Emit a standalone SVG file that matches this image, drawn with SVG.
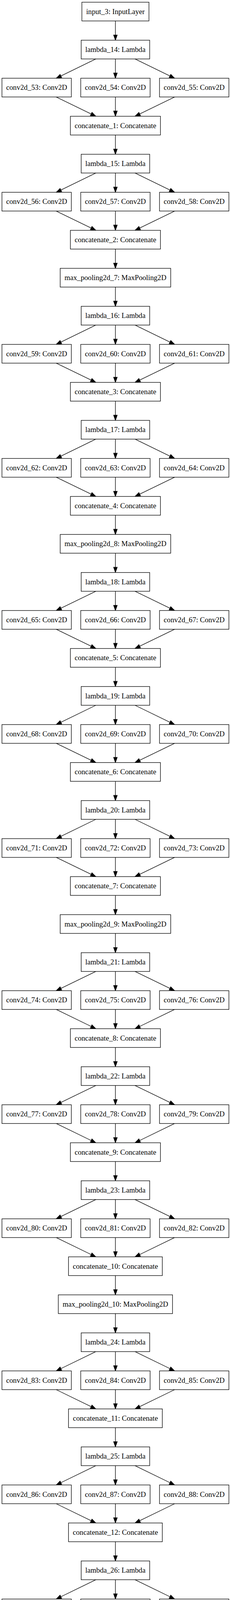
<svg xmlns="http://www.w3.org/2000/svg" width="591" height="4732" viewBox="0 0 591 4732">
<style>
.n rect{fill:#fff;stroke:#000;stroke-width:1.33}
.n text{font-family:"Liberation Serif","Times New Roman",serif;font-size:18.67px;fill:#000;text-anchor:middle}
.e path{fill:none;stroke:#000;stroke-width:1.33;marker-end:url(#ah)}
</style>
<defs>
<marker id="ah" markerUnits="userSpaceOnUse" viewBox="0 0 13.33 9.33" refX="13.33" refY="4.67" markerWidth="13.33" markerHeight="9.33" orient="auto" overflow="visible">
<path d="M0,0 L13.33,4.67 L0,9.33 z" fill="#000" stroke="#000" stroke-width="1.33"/>
</marker>
</defs>
<rect width="591" height="4732" fill="#fff"/>
<g id="connectors" class="e">
<path d="M295.3,53.6V102.9"/>
<path d="M245.2,150.9L143.8,200.3"/><path d="M295.3,150.9V200.3"/><path d="M345.4,150.9L446.8,200.3"/>
<path d="M143.8,248.3L245.2,297.6"/><path d="M295.3,248.3V297.6"/><path d="M446.8,248.3L345.4,297.6"/>
<path d="M295.3,345.6V394.9"/>
<path d="M245.2,442.9L143.8,492.3"/><path d="M295.3,442.9V492.3"/><path d="M345.4,442.9L446.8,492.3"/>
<path d="M143.8,540.3L245.2,589.6"/><path d="M295.3,540.3V589.6"/><path d="M446.8,540.3L345.4,589.6"/>
<path d="M295.3,637.6V686.9"/>
<path d="M295.3,734.9V784.2"/>
<path d="M245.2,832.2L143.8,881.6"/><path d="M295.3,832.2V881.6"/><path d="M345.4,832.2L446.8,881.6"/>
<path d="M143.8,929.6L245.2,978.9"/><path d="M295.3,929.6V978.9"/><path d="M446.8,929.6L345.4,978.9"/>
<path d="M295.3,1026.9V1076.2"/>
<path d="M245.2,1124.2L143.8,1173.6"/><path d="M295.3,1124.2V1173.6"/><path d="M345.4,1124.2L446.8,1173.6"/>
<path d="M143.8,1221.6L245.2,1270.9"/><path d="M295.3,1221.6V1270.9"/><path d="M446.8,1221.6L345.4,1270.9"/>
<path d="M295.3,1318.9V1368.2"/>
<path d="M295.3,1416.2V1465.6"/>
<path d="M245.2,1513.6L143.8,1562.9"/><path d="M295.3,1513.6V1562.9"/><path d="M345.4,1513.6L446.8,1562.9"/>
<path d="M143.8,1610.9L245.2,1660.2"/><path d="M295.3,1610.9V1660.2"/><path d="M446.8,1610.9L345.4,1660.2"/>
<path d="M295.3,1708.2V1757.5"/>
<path d="M245.2,1805.5L143.8,1854.9"/><path d="M295.3,1805.5V1854.9"/><path d="M345.4,1805.5L446.8,1854.9"/>
<path d="M143.8,1902.9L245.2,1952.2"/><path d="M295.3,1902.9V1952.2"/><path d="M446.8,1902.9L345.4,1952.2"/>
<path d="M295.3,2000.2V2049.5"/>
<path d="M245.2,2097.5L143.8,2146.9"/><path d="M295.3,2097.5V2146.9"/><path d="M345.4,2097.5L446.8,2146.9"/>
<path d="M143.8,2194.9L245.2,2244.2"/><path d="M295.3,2194.9V2244.2"/><path d="M446.8,2194.9L345.4,2244.2"/>
<path d="M295.3,2292.2V2341.5"/>
<path d="M295.3,2389.5V2438.9"/>
<path d="M245.2,2486.9L143.8,2536.2"/><path d="M295.3,2486.9V2536.2"/><path d="M345.4,2486.9L446.8,2536.2"/>
<path d="M143.8,2584.2L245.2,2633.5"/><path d="M295.3,2584.2V2633.5"/><path d="M446.8,2584.2L345.4,2633.5"/>
<path d="M295.3,2681.5V2730.8"/>
<path d="M245.2,2778.8L143.8,2828.2"/><path d="M295.3,2778.8V2828.2"/><path d="M345.4,2778.8L446.8,2828.2"/>
<path d="M143.8,2876.2L245.2,2925.5"/><path d="M295.3,2876.2V2925.5"/><path d="M446.8,2876.2L345.4,2925.5"/>
<path d="M295.3,2973.5V3022.8"/>
<path d="M245.2,3070.8L143.8,3120.2"/><path d="M295.3,3070.8V3120.2"/><path d="M345.4,3070.8L446.8,3120.2"/>
<path d="M143.8,3168.2L245.2,3217.5"/><path d="M295.3,3168.2V3217.5"/><path d="M446.8,3168.2L345.4,3217.5"/>
<path d="M295.3,3265.5V3314.8"/>
<path d="M295.3,3362.8V3412.2"/>
<path d="M245.2,3460.2L143.8,3509.5"/><path d="M295.3,3460.2V3509.5"/><path d="M345.4,3460.2L446.8,3509.5"/>
<path d="M143.8,3557.5L245.2,3606.8"/><path d="M295.3,3557.5V3606.8"/><path d="M446.8,3557.5L345.4,3606.8"/>
<path d="M295.3,3654.8V3704.1"/>
<path d="M245.2,3752.1L143.8,3801.5"/><path d="M295.3,3752.1V3801.5"/><path d="M345.4,3752.1L446.8,3801.5"/>
<path d="M143.8,3849.5L245.2,3898.8"/><path d="M295.3,3849.5V3898.8"/><path d="M446.8,3849.5L345.4,3898.8"/>
<path d="M295.3,3946.8V3996.1"/>
<path d="M245.2,4044.1L143.8,4093.5"/><path d="M295.3,4044.1V4093.5"/><path d="M345.4,4044.1L446.8,4093.5"/>
<path d="M143.8,4141.5L245.2,4190.8"/><path d="M295.3,4141.5V4190.8"/><path d="M446.8,4141.5L345.4,4190.8"/>
<path d="M295.3,4238.8V4288.1"/>
<path d="M295.3,4336.1V4385.5"/>
<path d="M295.3,4433.5V4482.8"/>
<path d="M295.3,4530.8V4580.1"/>
<path d="M295.3,4628.1V4677.4"/>
</g>
<g id="input_3" class="n"><rect x="209.5" y="5.6" width="171.6" height="48"/><text x="295.3" y="35.6">input_3: InputLayer</text></g>
<g id="lambda_14" class="n"><rect x="207.65" y="102.9" width="175.3" height="48"/><text x="295.3" y="132.9">lambda_14: Lambda</text></g>
<g id="conv2d_53" class="n"><rect x="5" y="200.3" width="177.5" height="48"/><text x="93.75" y="230.3">conv2d_53: Conv2D</text></g>
<g id="conv2d_54" class="n"><rect x="206.55" y="200.3" width="177.5" height="48"/><text x="295.3" y="230.3">conv2d_54: Conv2D</text></g>
<g id="conv2d_55" class="n"><rect x="408.1" y="200.3" width="177.5" height="48"/><text x="496.85" y="230.3">conv2d_55: Conv2D</text></g>
<g id="concatenate_1" class="n"><rect x="180.1" y="297.6" width="230.4" height="48"/><text x="295.3" y="327.6">concatenate_1: Concatenate</text></g>
<g id="lambda_15" class="n"><rect x="207.65" y="394.9" width="175.3" height="48"/><text x="295.3" y="424.9">lambda_15: Lambda</text></g>
<g id="conv2d_56" class="n"><rect x="5" y="492.3" width="177.5" height="48"/><text x="93.75" y="522.3">conv2d_56: Conv2D</text></g>
<g id="conv2d_57" class="n"><rect x="206.55" y="492.3" width="177.5" height="48"/><text x="295.3" y="522.3">conv2d_57: Conv2D</text></g>
<g id="conv2d_58" class="n"><rect x="408.1" y="492.3" width="177.5" height="48"/><text x="496.85" y="522.3">conv2d_58: Conv2D</text></g>
<g id="concatenate_2" class="n"><rect x="180.1" y="589.6" width="230.4" height="48"/><text x="295.3" y="619.6">concatenate_2: Concatenate</text></g>
<g id="max_pooling2d_7" class="n"><rect x="154" y="686.9" width="282.7" height="48"/><text x="295.3" y="716.9">max_pooling2d_7: MaxPooling2D</text></g>
<g id="lambda_16" class="n"><rect x="207.65" y="784.2" width="175.3" height="48"/><text x="295.3" y="814.2">lambda_16: Lambda</text></g>
<g id="conv2d_59" class="n"><rect x="5" y="881.6" width="177.5" height="48"/><text x="93.75" y="911.6">conv2d_59: Conv2D</text></g>
<g id="conv2d_60" class="n"><rect x="206.55" y="881.6" width="177.5" height="48"/><text x="295.3" y="911.6">conv2d_60: Conv2D</text></g>
<g id="conv2d_61" class="n"><rect x="408.1" y="881.6" width="177.5" height="48"/><text x="496.85" y="911.6">conv2d_61: Conv2D</text></g>
<g id="concatenate_3" class="n"><rect x="180.1" y="978.9" width="230.4" height="48"/><text x="295.3" y="1008.9">concatenate_3: Concatenate</text></g>
<g id="lambda_17" class="n"><rect x="207.65" y="1076.2" width="175.3" height="48"/><text x="295.3" y="1106.2">lambda_17: Lambda</text></g>
<g id="conv2d_62" class="n"><rect x="5" y="1173.6" width="177.5" height="48"/><text x="93.75" y="1203.6">conv2d_62: Conv2D</text></g>
<g id="conv2d_63" class="n"><rect x="206.55" y="1173.6" width="177.5" height="48"/><text x="295.3" y="1203.6">conv2d_63: Conv2D</text></g>
<g id="conv2d_64" class="n"><rect x="408.1" y="1173.6" width="177.5" height="48"/><text x="496.85" y="1203.6">conv2d_64: Conv2D</text></g>
<g id="concatenate_4" class="n"><rect x="180.1" y="1270.9" width="230.4" height="48"/><text x="295.3" y="1300.9">concatenate_4: Concatenate</text></g>
<g id="max_pooling2d_8" class="n"><rect x="154" y="1368.2" width="282.7" height="48"/><text x="295.3" y="1398.2">max_pooling2d_8: MaxPooling2D</text></g>
<g id="lambda_18" class="n"><rect x="207.65" y="1465.6" width="175.3" height="48"/><text x="295.3" y="1495.6">lambda_18: Lambda</text></g>
<g id="conv2d_65" class="n"><rect x="5" y="1562.9" width="177.5" height="48"/><text x="93.75" y="1592.9">conv2d_65: Conv2D</text></g>
<g id="conv2d_66" class="n"><rect x="206.55" y="1562.9" width="177.5" height="48"/><text x="295.3" y="1592.9">conv2d_66: Conv2D</text></g>
<g id="conv2d_67" class="n"><rect x="408.1" y="1562.9" width="177.5" height="48"/><text x="496.85" y="1592.9">conv2d_67: Conv2D</text></g>
<g id="concatenate_5" class="n"><rect x="180.1" y="1660.2" width="230.4" height="48"/><text x="295.3" y="1690.2">concatenate_5: Concatenate</text></g>
<g id="lambda_19" class="n"><rect x="207.65" y="1757.5" width="175.3" height="48"/><text x="295.3" y="1787.5">lambda_19: Lambda</text></g>
<g id="conv2d_68" class="n"><rect x="5" y="1854.9" width="177.5" height="48"/><text x="93.75" y="1884.9">conv2d_68: Conv2D</text></g>
<g id="conv2d_69" class="n"><rect x="206.55" y="1854.9" width="177.5" height="48"/><text x="295.3" y="1884.9">conv2d_69: Conv2D</text></g>
<g id="conv2d_70" class="n"><rect x="408.1" y="1854.9" width="177.5" height="48"/><text x="496.85" y="1884.9">conv2d_70: Conv2D</text></g>
<g id="concatenate_6" class="n"><rect x="180.1" y="1952.2" width="230.4" height="48"/><text x="295.3" y="1982.2">concatenate_6: Concatenate</text></g>
<g id="lambda_20" class="n"><rect x="207.65" y="2049.5" width="175.3" height="48"/><text x="295.3" y="2079.5">lambda_20: Lambda</text></g>
<g id="conv2d_71" class="n"><rect x="5" y="2146.9" width="177.5" height="48"/><text x="93.75" y="2176.9">conv2d_71: Conv2D</text></g>
<g id="conv2d_72" class="n"><rect x="206.55" y="2146.9" width="177.5" height="48"/><text x="295.3" y="2176.9">conv2d_72: Conv2D</text></g>
<g id="conv2d_73" class="n"><rect x="408.1" y="2146.9" width="177.5" height="48"/><text x="496.85" y="2176.9">conv2d_73: Conv2D</text></g>
<g id="concatenate_7" class="n"><rect x="180.1" y="2244.2" width="230.4" height="48"/><text x="295.3" y="2274.2">concatenate_7: Concatenate</text></g>
<g id="max_pooling2d_9" class="n"><rect x="154" y="2341.5" width="282.7" height="48"/><text x="295.3" y="2371.5">max_pooling2d_9: MaxPooling2D</text></g>
<g id="lambda_21" class="n"><rect x="207.65" y="2438.9" width="175.3" height="48"/><text x="295.3" y="2468.9">lambda_21: Lambda</text></g>
<g id="conv2d_74" class="n"><rect x="5" y="2536.2" width="177.5" height="48"/><text x="93.75" y="2566.2">conv2d_74: Conv2D</text></g>
<g id="conv2d_75" class="n"><rect x="206.55" y="2536.2" width="177.5" height="48"/><text x="295.3" y="2566.2">conv2d_75: Conv2D</text></g>
<g id="conv2d_76" class="n"><rect x="408.1" y="2536.2" width="177.5" height="48"/><text x="496.85" y="2566.2">conv2d_76: Conv2D</text></g>
<g id="concatenate_8" class="n"><rect x="180.1" y="2633.5" width="230.4" height="48"/><text x="295.3" y="2663.5">concatenate_8: Concatenate</text></g>
<g id="lambda_22" class="n"><rect x="207.65" y="2730.8" width="175.3" height="48"/><text x="295.3" y="2760.8">lambda_22: Lambda</text></g>
<g id="conv2d_77" class="n"><rect x="5" y="2828.2" width="177.5" height="48"/><text x="93.75" y="2858.2">conv2d_77: Conv2D</text></g>
<g id="conv2d_78" class="n"><rect x="206.55" y="2828.2" width="177.5" height="48"/><text x="295.3" y="2858.2">conv2d_78: Conv2D</text></g>
<g id="conv2d_79" class="n"><rect x="408.1" y="2828.2" width="177.5" height="48"/><text x="496.85" y="2858.2">conv2d_79: Conv2D</text></g>
<g id="concatenate_9" class="n"><rect x="180.1" y="2925.5" width="230.4" height="48"/><text x="295.3" y="2955.5">concatenate_9: Concatenate</text></g>
<g id="lambda_23" class="n"><rect x="207.65" y="3022.8" width="175.3" height="48"/><text x="295.3" y="3052.8">lambda_23: Lambda</text></g>
<g id="conv2d_80" class="n"><rect x="5" y="3120.2" width="177.5" height="48"/><text x="93.75" y="3150.2">conv2d_80: Conv2D</text></g>
<g id="conv2d_81" class="n"><rect x="206.55" y="3120.2" width="177.5" height="48"/><text x="295.3" y="3150.2">conv2d_81: Conv2D</text></g>
<g id="conv2d_82" class="n"><rect x="408.1" y="3120.2" width="177.5" height="48"/><text x="496.85" y="3150.2">conv2d_82: Conv2D</text></g>
<g id="concatenate_10" class="n"><rect x="175.3" y="3217.5" width="240" height="48"/><text x="295.3" y="3247.5">concatenate_10: Concatenate</text></g>
<g id="max_pooling2d_10" class="n"><rect x="149.2" y="3314.8" width="292.2" height="48"/><text x="295.3" y="3344.8">max_pooling2d_10: MaxPooling2D</text></g>
<g id="lambda_24" class="n"><rect x="207.65" y="3412.2" width="175.3" height="48"/><text x="295.3" y="3442.2">lambda_24: Lambda</text></g>
<g id="conv2d_83" class="n"><rect x="5" y="3509.5" width="177.5" height="48"/><text x="93.75" y="3539.5">conv2d_83: Conv2D</text></g>
<g id="conv2d_84" class="n"><rect x="206.55" y="3509.5" width="177.5" height="48"/><text x="295.3" y="3539.5">conv2d_84: Conv2D</text></g>
<g id="conv2d_85" class="n"><rect x="408.1" y="3509.5" width="177.5" height="48"/><text x="496.85" y="3539.5">conv2d_85: Conv2D</text></g>
<g id="concatenate_11" class="n"><rect x="175.3" y="3606.8" width="240" height="48"/><text x="295.3" y="3636.8">concatenate_11: Concatenate</text></g>
<g id="lambda_25" class="n"><rect x="207.65" y="3704.1" width="175.3" height="48"/><text x="295.3" y="3734.1">lambda_25: Lambda</text></g>
<g id="conv2d_86" class="n"><rect x="5" y="3801.5" width="177.5" height="48"/><text x="93.75" y="3831.5">conv2d_86: Conv2D</text></g>
<g id="conv2d_87" class="n"><rect x="206.55" y="3801.5" width="177.5" height="48"/><text x="295.3" y="3831.5">conv2d_87: Conv2D</text></g>
<g id="conv2d_88" class="n"><rect x="408.1" y="3801.5" width="177.5" height="48"/><text x="496.85" y="3831.5">conv2d_88: Conv2D</text></g>
<g id="concatenate_12" class="n"><rect x="175.3" y="3898.8" width="240" height="48"/><text x="295.3" y="3928.8">concatenate_12: Concatenate</text></g>
<g id="lambda_26" class="n"><rect x="207.65" y="3996.1" width="175.3" height="48"/><text x="295.3" y="4026.1">lambda_26: Lambda</text></g>
<g id="conv2d_89" class="n"><rect x="5" y="4093.5" width="177.5" height="48"/><text x="93.75" y="4123.5">conv2d_89: Conv2D</text></g>
<g id="conv2d_90" class="n"><rect x="206.55" y="4093.5" width="177.5" height="48"/><text x="295.3" y="4123.5">conv2d_90: Conv2D</text></g>
<g id="conv2d_91" class="n"><rect x="408.1" y="4093.5" width="177.5" height="48"/><text x="496.85" y="4123.5">conv2d_91: Conv2D</text></g>
<g id="concatenate_13" class="n"><rect x="175.3" y="4190.8" width="240" height="48"/><text x="295.3" y="4220.8">concatenate_13: Concatenate</text></g>
<g id="max_pooling2d_11" class="n"><rect x="149.2" y="4288.1" width="292.2" height="48"/><text x="295.3" y="4318.1">max_pooling2d_11: MaxPooling2D</text></g>
<g id="flatten" class="n"><rect x="230.15" y="4385.5" width="130.3" height="48"/><text x="295.3" y="4415.5">flatten: Flatten</text></g>
<g id="dense_7" class="n"><rect x="225.65" y="4482.8" width="139.3" height="48"/><text x="295.3" y="4512.8">dense_7: Dense</text></g>
<g id="dense_8" class="n"><rect x="225.65" y="4580.1" width="139.3" height="48"/><text x="295.3" y="4610.1">dense_8: Dense</text></g>
<g id="dense_9" class="n"><rect x="225.65" y="4677.4" width="139.3" height="48"/><text x="295.3" y="4707.4">dense_9: Dense</text></g>
</svg>
